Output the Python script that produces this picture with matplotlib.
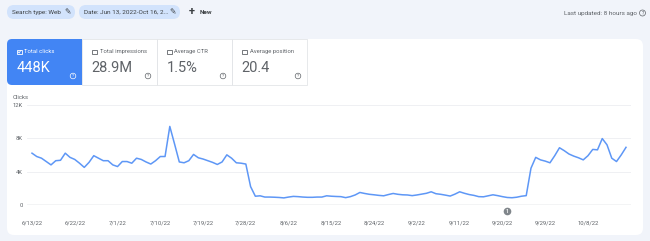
import matplotlib
matplotlib.use("Agg")
import matplotlib.pyplot as plt
import matplotlib.dates as mdates
from matplotlib.patches import FancyBboxPatch, Rectangle, Circle
from matplotlib.transforms import Affine2D
import numpy as np
import pandas as pd

# ---------------- data ----------------
start_date = "2022-06-13"
clicks_k = [
    6.2, 5.8, 5.6, 5.2, 4.8, 5.3, 5.35, 6.2, 5.7, 5.45,
    5.0, 4.5, 5.1, 5.9, 5.6, 5.3, 5.3, 4.8, 4.6, 5.2,
    5.2, 5.0, 5.6, 5.45, 5.15, 4.9, 5.3, 5.8, 5.8, 9.4,
    7.3, 5.15, 5.05, 5.3, 6.05, 5.65, 5.5, 5.3, 5.1, 4.85,
    5.15, 6.0, 5.6, 5.05, 5.0, 4.9, 2.2, 1.05, 1.1, 0.95,
    0.95, 0.93, 0.9, 0.85, 0.95, 1.03, 1.0, 0.95, 0.92, 0.92,
    0.95, 0.95, 1.1, 1.05, 1.02, 1.0, 0.88, 1.0, 1.2, 1.5,
    1.38, 1.28, 1.22, 1.15, 1.1, 1.25, 1.38, 1.28, 1.22, 1.2,
    1.12, 1.2, 1.3, 1.4, 1.58, 1.35, 1.28, 1.18, 1.07, 1.3,
    1.58, 1.4, 1.25, 1.15, 1.0, 0.98, 1.1, 1.22, 1.12, 1.0,
    0.9, 0.87, 0.93, 1.05, 1.12, 4.4, 5.7, 5.4, 5.25, 5.05,
    5.9, 6.85, 6.5, 6.1, 5.85, 5.65, 5.4, 5.9, 6.65, 6.6,
    7.95, 7.2, 5.6, 5.2, 6.0, 6.9,
]
tick_dates = ["2022-06-13", "2022-06-22", "2022-07-01", "2022-07-10", "2022-07-19",
              "2022-07-28", "2022-08-06", "2022-08-15", "2022-08-24", "2022-09-02",
              "2022-09-11", "2022-09-20", "2022-09-29", "2022-10-08"]
tick_labels = ["6/13/22", "6/22/22", "7/1/22", "7/10/22", "7/19/22", "7/28/22", "8/6/22",
               "8/15/22", "8/24/22", "9/2/22", "9/11/22", "9/20/22", "9/29/22", "10/8/22"]
y_ticks = [0, 4000, 8000, 12000]
y_labels = ["0", "4K", "8K", "12K"]
annotation_date = "2022-09-21"
annotation_text = "1"

metric_names = ["Total clicks", "Total impressions", "Average CTR", "Average position"]
metric_values = ["448K", "28.9M", "1.5%", "20.4"]
chip_labels = ["Search type: Web", "Date: Jun 13, 2022-Oct 16, 2..."]

# ---------------- figure ----------------
W, H = 650, 241
plt.rcParams['font.family'] = ['Roboto', 'DejaVu Sans']
fig = plt.figure(figsize=(W / 100, H / 100), dpi=100)
fig.patch.set_facecolor("#f1f4fa")
px = Affine2D().scale(1 / W, -1 / H).translate(0, 1) + fig.transFigure

GRAY = "#5f6368"
BLUE_TILE = "#4285f4"
LINE = "#5e97f6"

# card
card = FancyBboxPatch((7, 39), 636, 196, boxstyle="round,pad=0,rounding_size=7",
                      transform=px, facecolor="white", edgecolor="none")
fig.patches.append(card)
# blue tile
tile = FancyBboxPatch((7, 39), 75, 46, boxstyle="round,pad=0,rounding_size=5",
                      transform=px, facecolor=BLUE_TILE, edgecolor="none")
fig.patches.append(tile)
fig.patches.append(Rectangle((12, 60), 70, 25, transform=px, facecolor=BLUE_TILE, edgecolor="none"))
fig.patches.append(Rectangle((40, 39), 42, 10, transform=px, facecolor=BLUE_TILE, edgecolor="none"))

# tile borders
for x0 in [82, 157, 232]:
    fig.patches.append(Rectangle((x0, 39), 75, 46, transform=px, facecolor="none",
                                 edgecolor="#e3e5e8", linewidth=0.6))

tile_x = [7, 82, 157, 232]
for i, (nm, val) in enumerate(zip(metric_names, metric_values)):
    x0 = tile_x[i]
    col = "white" if i == 0 else GRAY
    # checkbox
    fig.patches.append(Rectangle((x0 + 10, 49.5), 4.5, 4.5, transform=px, facecolor="none",
                                 edgecolor=col, linewidth=0.6))
    if i == 0:
        fig.lines.append(plt.Line2D([x0 + 11, x0 + 12.2, x0 + 13.6], [51.8, 53, 50.6],
                                    transform=px, color="white", linewidth=0.6))
    fig.text(x0 + 17.5, 51.8, nm, transform=px, fontsize=4.2, color=col, va="center", ha="left")
    fig.text(x0 + 9.5, 67.5, val, transform=px, fontsize=10.5, color=col, va="center", ha="left")
    # help icon
    cx = x0 + 66
    fig.patches.append(Circle((cx, 76), 2.8, transform=px, facecolor="none", edgecolor=col,
                              linewidth=0.5))
    fig.text(cx, 76.2, "?", transform=px, fontsize=3.2, color=col, va="center", ha="center")

# chips
chip_spans = [(7, 75), (79, 180)]
for (x0, x1), lab in zip(chip_spans, chip_labels):
    fig.patches.append(FancyBboxPatch((x0, 5), x1 - x0, 14, boxstyle="round,pad=0,rounding_size=7",
                                      transform=px, facecolor="#d2e3fc", edgecolor="none"))
    fig.text(x0 + 5, 12.3, lab, transform=px, fontsize=4.6, color="#3c4043", va="center", ha="left")
    fig.text(x1 - 7.5, 12.3, "\u270e", transform=px, fontsize=5.5, color="#3c4043", va="center",
             ha="center", family="DejaVu Sans")
fig.text(192, 12.3, "+", transform=px, fontsize=8, color="#3c4043", va="center", ha="center",
         fontweight="bold")
fig.text(200, 12.3, "New", transform=px, fontsize=4.6, color="#3c4043", va="center", ha="left",
         fontweight="bold")
fig.text(637, 13, "Last updated: 8 hours ago", transform=px, fontsize=4.6, color=GRAY,
         va="center", ha="right")
fig.patches.append(Circle((642.5, 13), 3, transform=px, facecolor="none", edgecolor=GRAY, linewidth=0.5))
fig.text(642.5, 13.2, "?", transform=px, fontsize=3.4, color=GRAY, va="center", ha="center")

# ---------------- chart ----------------
dates = pd.date_range(start_date, periods=len(clicks_k), freq="D")
values = np.array(clicks_k) * 1000

left, right, top, bottom = 27, 631, 104.7, 205
ax = fig.add_axes([left / W, 1 - bottom / H, (right - left) / W, (bottom - top) / H])
ax.set_zorder(10)
ax.set_facecolor("none")
ax.plot(dates, values, color=LINE, linewidth=1.1, solid_joinstyle="round", zorder=3)

d0 = mdates.date2num(dates[0])
d1 = mdates.date2num(dates[-1])
ax.set_xlim(d0 - 1.05, d1 + 1.05)
ax.set_ylim(0, 12000)
for s in ax.spines.values():
    s.set_visible(False)
for yv in y_ticks[1:]:
    ax.axhline(yv, color="#eceef1", linewidth=0.6, zorder=1)
ax.axhline(0, color="#c4c7cc", linewidth=1.0, zorder=2)

ax.set_yticks(y_ticks)
ax.set_yticklabels(y_labels)
ax.set_xticks(pd.to_datetime(tick_dates))
ax.set_xticklabels(tick_labels)
ax.tick_params(axis="both", length=0, labelsize=4.2, labelcolor=GRAY)
ax.tick_params(axis="y", pad=3)
ax.tick_params(axis="x", pad=11)
for lab in ax.get_yticklabels():
    lab.set_horizontalalignment("right")

fig.text(13, 97.5, "Clicks", transform=px, fontsize=4.2, color=GRAY, va="center", ha="left")

# annotation marker
ann_x = mdates.date2num(pd.Timestamp(annotation_date))
ax.plot([ann_x], [-750], marker="o", markersize=5.5, color="#80868b", clip_on=False, zorder=4,
        markeredgewidth=0)
ax.text(ann_x, -750, annotation_text, fontsize=3.6, color="white", ha="center", va="center",
        clip_on=False, zorder=5, fontweight="bold")

fig.savefig("out.png", dpi=100, facecolor=fig.get_facecolor())
